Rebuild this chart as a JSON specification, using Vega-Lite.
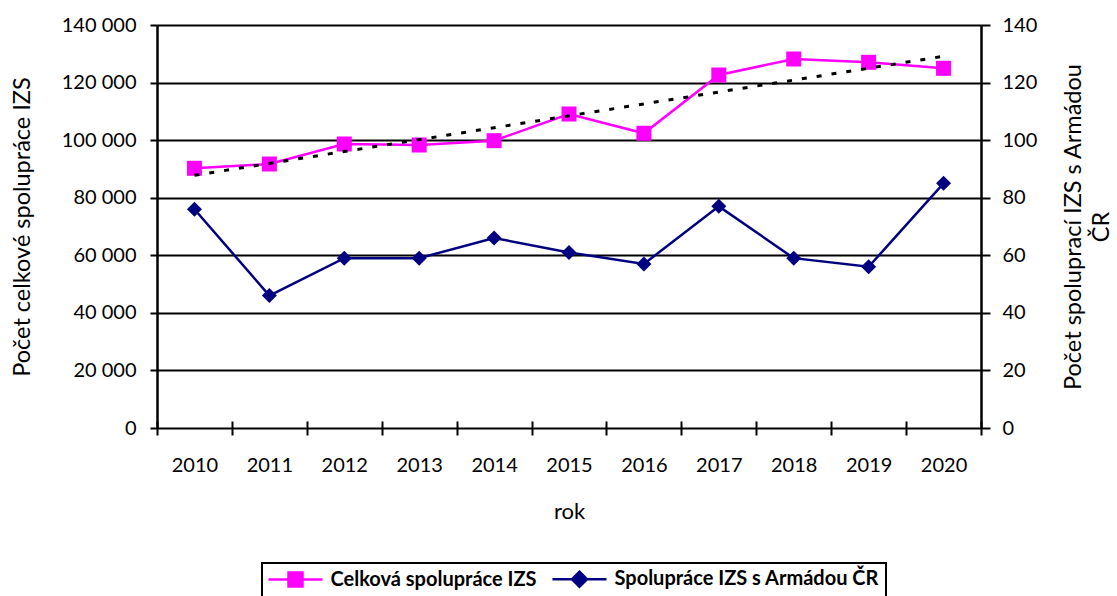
{
  "$schema": "https://vega.github.io/schema/vega-lite/v6.json",
  "width": 824,
  "height": 403,
  "autosize": {"type": "none"},
  "padding": {"left": 157, "top": 25, "right": 136, "bottom": 168},
  "background": "white",
  "config": {
    "view": {"stroke": null},
    "font": "Lato",
    "axis": {
      "labelFont": "Lato",
      "titleFont": "Lato",
      "labelColor": "black",
      "titleColor": "black",
      "titleFontWeight": "normal",
      "domainColor": "black",
      "tickColor": "black",
      "labelFontSize": 20,
      "titleFontSize": 23.5
    },
    "legend": {"strokeWidth": 2}
  },
  "data": {
    "values": [
      {"rok": 2010, "celkova": 90220, "armada": 76},
      {"rok": 2011, "celkova": 91710, "armada": 46},
      {"rok": 2012, "celkova": 98660, "armada": 59},
      {"rok": 2013, "celkova": 98310, "armada": 59},
      {"rok": 2014, "celkova": 99810, "armada": 66},
      {"rok": 2015, "celkova": 109080, "armada": 61},
      {"rok": 2016, "celkova": 102380, "armada": 57},
      {"rok": 2017, "celkova": 122630, "armada": 77},
      {"rok": 2018, "celkova": 128190, "armada": 59},
      {"rok": 2019, "celkova": 127040, "armada": 56},
      {"rok": 2020, "celkova": 124960, "armada": 85}
    ]
  },
  "encoding": {
    "x": {
      "field": "rok",
      "type": "ordinal",
      "scale": {"type": "band", "paddingInner": 0, "paddingOuter": 0},
      "axis": {
        "labelAngle": 0,
        "domain": false,
        "grid": false,
        "tickBand": "extent",
        "tickSize": 14,
        "tickWidth": 2,
        "offset": -7,
        "labelPadding": 20,
        "title": "rok",
        "titleFontSize": 22,
        "titlePadding": 26
      }
    }
  },
  "layer": [
    {
      "layer": [
        {
          "mark": {"type": "line", "color": "#FF00FF", "strokeWidth": 2.5},
          "encoding": {
            "y": {
              "field": "celkova",
              "type": "quantitative",
              "scale": {"domain": [0, 140000], "nice": false},
              "axis": {
                "orient": "left",
                "values": [0, 20000, 40000, 60000, 80000, 100000, 120000, 140000],
                "labelExpr": "replace(format(datum.value, ','), ',', ' ')",
                "grid": true,
                "gridColor": "black",
                "gridWidth": 2,
                "gridOpacity": 1,
                "domainWidth": 2.5,
                "tickSize": 7,
                "tickWidth": 2,
                "labelPadding": 14,
                "title": "Počet celkové spolupráce IZS",
                "titlePadding": 27
              }
            }
          }
        },
        {
          "mark": {"type": "point", "shape": "square", "filled": true, "size": 225, "opacity": 1},
          "encoding": {
            "y": {"field": "celkova", "type": "quantitative"},
            "color": {
              "datum": "Celková spolupráce IZS",
              "scale": {
                "domain": ["Celková spolupráce IZS", "Spolupráce IZS s Armádou ČR"],
                "range": ["#FF00FF", "#000080"]
              },
              "legend": {
                "orient": "none",
                "legendX": 105,
                "legendY": 538,
                "direction": "horizontal",
                "title": null,
                "strokeColor": "black",
                "fillColor": "white",
                "padding": 6,
                "labelFont": "Lato",
                "labelFontWeight": "bold",
                "labelFontSize": 20,
                "labelColor": "black",
                "labelLimit": 400,
                "symbolSize": 256,
                "symbolStrokeWidth": 2.5,
                "symbolOffset": 17.5,
                "labelOffset": 25,
                "columnPadding": 10,
                "encoding": {
                  "symbols": {
                    "shape": {"value": {"expr": "datum.value == 'Celková spolupráce IZS' ? 'M-3.375,0H3.375M-0.875,-0.875H0.875V0.875H-0.875Z' : 'M-3.375,0H3.375M0,-0.94L0.94,0L0,0.94L-0.94,0Z'"}},
                    "fill": {"value": {"expr": "datum.value == 'Celková spolupráce IZS' ? '#FF00FF' : '#000080'"}},
                    "stroke": {"value": {"expr": "datum.value == 'Celková spolupráce IZS' ? '#FF00FF' : '#000080'"}},
                    "opacity": {"value": 1}
                  }
                }
              }
            }
          }
        },
        {
          "transform": [{"regression": "celkova", "on": "rok"}],
          "mark": {"type": "line", "color": "black", "strokeWidth": 3, "strokeDash": [5, 10]},
          "encoding": {
            "y": {"field": "celkova", "type": "quantitative"}
          }
        }
      ]
    },
    {
      "layer": [
        {
          "mark": {"type": "line", "color": "#000080", "strokeWidth": 2.5},
          "encoding": {
            "y": {
              "field": "armada",
              "type": "quantitative",
              "scale": {"domain": [0, 140], "nice": false},
              "axis": {
                "orient": "right",
                "values": [0, 20, 40, 60, 80, 100, 120, 140],
                "grid": false,
                "domainWidth": 2.5,
                "tickSize": 9,
                "tickWidth": 2,
                "labelPadding": 12,
                "title": ["Počet spoluprací IZS s Armádou", "ČR"],
                "titleAngle": 270,
                "titleBaseline": "top",
                "titleLineHeight": 28,
                "titlePadding": -3
              }
            }
          }
        },
        {
          "mark": {"type": "point", "shape": "diamond", "filled": true, "size": 225, "opacity": 1},
          "encoding": {
            "y": {"field": "armada", "type": "quantitative"},
            "color": {"datum": "Spolupráce IZS s Armádou ČR"}
          }
        }
      ]
    }
  ],
  "resolve": {"scale": {"y": "independent"}}
}
